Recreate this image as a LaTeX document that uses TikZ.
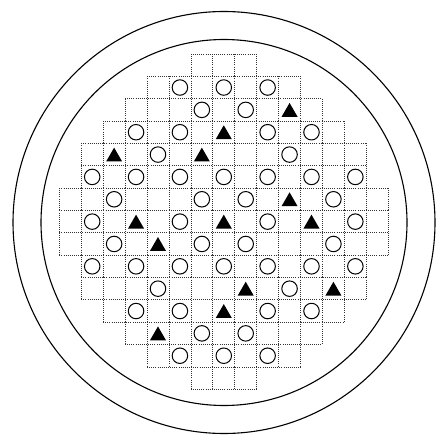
\documentclass[tikz,border=0pt]{standalone}
\usetikzlibrary{shapes.geometric}

\tikzset{
  cellline/.style={black!80, line width=0.75pt, dash pattern=on 0.9pt off 1.2pt},
  ring/.style={circle, draw, line width=1pt, minimum size=15.5pt, inner sep=0pt},
  tri/.style={regular polygon, regular polygon sides=3, fill=black, minimum size=18.5pt, inner sep=0pt, yshift=-2.3pt}
}

\begin{document}
\begin{tikzpicture}[x=1pt, y=-1pt]
  \useasboundingbox (0,0) rectangle (439,438);
  % vessel walls
  \draw[line width=1.1pt] (224,222.5) circle[radius=211];
  \draw[line width=1.1pt] (224,222.5) circle[radius=183];
  \begin{scope}[shift={(59.3,54)}, x=21.93pt, y=-22.35pt]
    % horizontal lines: row boundary / first column
    \foreach \k/\f in {0/6,1/4,2/3,3/2,4/1,5/1,6/0,7/0,8/0,9/0,10/1,11/1,12/2,13/3,14/4,15/6}
      \draw[cellline] (\f,\k) -- ({15-\f},\k);
    % vertical lines per row
    \foreach \r/\f in {0/6,1/4,2/3,3/2,4/1,5/1,6/0,7/0,8/0,9/1,10/1,11/2,12/3,13/4,14/6}
      \foreach \x in {\f,...,\numexpr15-\f\relax}
        \draw[cellline] (\x,\r) -- (\x,\r+1);
    % open positions
    \foreach \r/\c in {1/5,1/7,1/9, 2/6,2/8, 3/3,3/5,3/9,3/11, 4/4,4/10,
                       5/1,5/3,5/5,5/7,5/9,5/11,5/13, 6/2,6/6,6/8,6/12,
                       7/1,7/5,7/9,7/13, 8/2,8/6,8/8,8/12,
                       9/1,9/3,9/5,9/7,9/9,9/11,9/13, 10/4,10/10,
                       11/3,11/5,11/9,11/11, 12/6,12/8, 13/5,13/7,13/9}
      \node[ring] (ring-\r-\c) at (\c+0.5,\r+0.5) {};
    % filled positions
    \foreach \r/\c in {2/10, 3/7, 4/2,4/6, 6/10, 7/3,7/7,7/11, 8/4, 10/8,10/12, 11/7, 12/4}
      \node[tri] (tri-\r-\c) at (\c+0.5,\r+0.5) {};
  \end{scope}
\end{tikzpicture}
\end{document}
